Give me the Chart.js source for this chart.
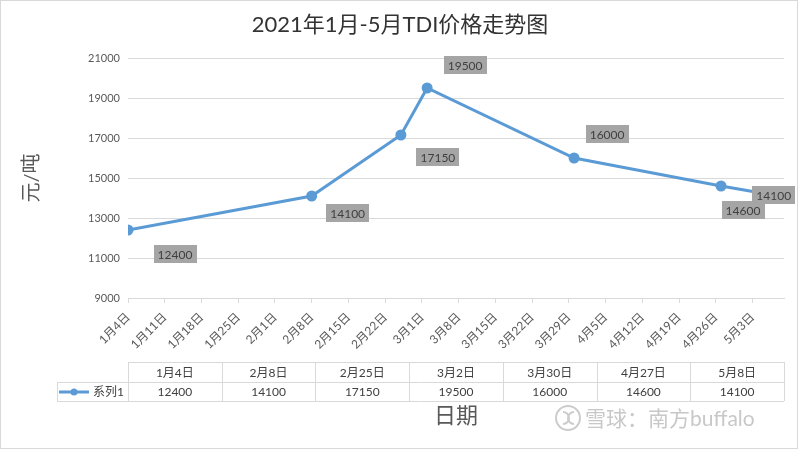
<!DOCTYPE html>
<html>
<head>
<meta charset="utf-8">
<script src="https://cdn.jsdelivr.net/npm/chart.js@4.4.1/dist/chart.umd.min.js"></script>
<style>
  html, body { margin: 0; padding: 0; background: #fff; }
</style>
</head>
<body>
<canvas id="myChart" width="800" height="451"></canvas>
<script>
// Chart data
const chartTitle = '2021年1月-5月TDI价格走势图';
const yTitle = '元/吨';
const xTitle = '日期';
const seriesName = '系列1';
const watermark = '雪球：南方buffalo';

const categories = ['1月4日', '2月8日', '2月25日', '3月2日', '3月30日', '4月27日', '5月8日'];
const prices = [12400, 14100, 17150, 19500, 16000, 14600, 14100];

const tickLabels = [
  '1月4日', '1月11日', '1月18日', '1月25日', '2月1日', '2月8日', '2月15日', '2月22日',
  '3月1日', '3月8日', '3月15日', '3月22日', '3月29日', '4月5日', '4月12日', '4月19日',
  '4月26日', '5月3日'
];

// where each gray value box sits relative to its point (px)
const labelOffsets = [[47, 24], [36, 17], [37, 22], [38, -23], [33, -24], [22, 24], [-5, -1]];

const FONT = "Lato, 'Noto Sans CJK SC', sans-serif";
const GRID = '#d9d9d9';
const TEXT = '#595959';
const LINE = '#5b9bd5';

// '2月8日' -> day of year 2021
const dayOfYear = (label) => {
  const m = label.match(/(\d+)月(\d+)日/);
  return (Date.UTC(2021, +m[1] - 1, +m[2]) - Date.UTC(2021, 0, 0)) / 86400000;
}

// Title, axis titles, frame, watermark
const decorPlugin = {
  id: 'decor',
  afterDraw: (chart) => {
    const ctx = chart.ctx;
    const area = chart.chartArea;
    ctx.save();

    ctx.strokeStyle = GRID;
    ctx.lineWidth = 1;
    ctx.strokeRect(0.5, 0.5, 797, 448);

    ctx.fillStyle = '#333333';
    ctx.font = '22px ' + FONT;
    ctx.textAlign = 'center';
    ctx.textBaseline = 'middle';
    ctx.fillText(chartTitle, 400, 25);

    ctx.fillStyle = TEXT;
    ctx.font = '22px ' + FONT;
    ctx.fillText(xTitle, (area.left + area.right) / 2, 416);

    ctx.save();
    ctx.translate(32, 178);
    ctx.rotate(-Math.PI / 2);
    ctx.font = '20px ' + FONT;
    ctx.fillText(yTitle, 0, 0);
    ctx.restore();

    // watermark logo + text
    ctx.strokeStyle = '#cccccc';
    ctx.lineWidth = 2;
    ctx.beginPath();
    ctx.arc(568, 418, 12, 0, Math.PI * 2);
    ctx.stroke();
    ctx.beginPath();
    ctx.arc(563, 418, 6, -Math.PI / 2, Math.PI / 2);
    ctx.stroke();
    ctx.beginPath();
    ctx.arc(574, 418, 6, Math.PI / 2, Math.PI * 1.5);
    ctx.stroke();
    ctx.fillStyle = '#c8c8c8';
    ctx.font = '21px ' + FONT;
    ctx.textAlign = 'left';
    ctx.fillText(watermark, 585, 419);

    ctx.restore();
  }
}

// Gray boxes with the values
const valueLabelPlugin = {
  id: 'valueLabels',
  afterDatasetsDraw: (chart) => {
    const ctx = chart.ctx;
    const points = chart.getDatasetMeta(0).data;
    ctx.save();
    ctx.font = '12px ' + FONT;
    ctx.textAlign = 'center';
    ctx.textBaseline = 'middle';
    points.forEach((p, i) => {
      const text = String(prices[i]);
      const cx = p.x + labelOffsets[i][0];
      const cy = p.y + labelOffsets[i][1];
      const w = ctx.measureText(text).width + 8;
      const h = 18;
      ctx.fillStyle = '#a5a5a5';
      ctx.fillRect(Math.round(cx - w / 2), Math.round(cy - h / 2), Math.round(w), h);
      ctx.fillStyle = '#404040';
      ctx.fillText(text, cx, cy + 1);
    });
    ctx.restore();
  }
}

// Data table under the axis
const tablePlugin = {
  id: 'dataTable',
  afterDraw: (chart) => {
    const ctx = chart.ctx;
    const area = chart.chartArea;
    const top = 362, mid = 382, bottom = 401, legendLeft = 57;
    const colW = (area.right - area.left) / categories.length;
    ctx.save();
    ctx.strokeStyle = GRID;
    ctx.lineWidth = 1;
    ctx.beginPath();
    ctx.moveTo(area.left, top + 0.5); ctx.lineTo(area.right, top + 0.5);
    ctx.moveTo(legendLeft, mid + 0.5); ctx.lineTo(area.right, mid + 0.5);
    ctx.moveTo(legendLeft, bottom + 0.5); ctx.lineTo(area.right, bottom + 0.5);
    ctx.moveTo(legendLeft + 0.5, mid); ctx.lineTo(legendLeft + 0.5, bottom);
    for (let i = 0; i <= categories.length; i++) {
      const x = Math.round(area.left + i * colW) + 0.5;
      ctx.moveTo(x, top); ctx.lineTo(x, bottom);
    }
    ctx.stroke();

    ctx.font = '12px ' + FONT;
    ctx.fillStyle = '#404040';
    ctx.textAlign = 'center';
    ctx.textBaseline = 'middle';
    categories.forEach((c, i) => {
      const x = area.left + (i + 0.5) * colW;
      ctx.fillText(c, x, (top + mid) / 2 + 1);
      ctx.fillText(String(prices[i]), x, (mid + bottom) / 2 + 1);
    });

    // legend key
    const ly = (mid + bottom) / 2 + 0.5;
    ctx.strokeStyle = LINE;
    ctx.lineWidth = 3;
    ctx.beginPath();
    ctx.moveTo(59, ly); ctx.lineTo(89, ly);
    ctx.stroke();
    ctx.fillStyle = LINE;
    ctx.beginPath();
    ctx.arc(74, ly, 3.5, 0, Math.PI * 2);
    ctx.fill();
    ctx.fillStyle = '#404040';
    ctx.textAlign = 'left';
    ctx.fillText(seriesName, 93, ly + 0.5);
    ctx.restore();
  }
}

const createChart = () => {
  Chart.defaults.font.family = FONT;
  Chart.defaults.color = TEXT;

  const data = {
    datasets: [{
      label: seriesName,
      data: categories.map((c, i) => ({ x: dayOfYear(c), y: prices[i] })),
      borderColor: LINE,
      backgroundColor: LINE,
      borderWidth: 3,
      pointRadius: 4,
      pointHoverRadius: 4,
      tension: 0
    }]
  };

  const config = {
    type: 'line',
    data: data,
    options: {
      responsive: false,
      animation: false,
      layout: { padding: { top: 58, right: 16, bottom: 0, left: 0 } },
      plugins: {
        legend: { display: false },
        tooltip: { enabled: false },
        title: { display: false }
      },
      scales: {
        x: {
          type: 'linear',
          min: dayOfYear(tickLabels[0]),
          max: dayOfYear(categories[categories.length - 1]) + 1,
          afterBuildTicks: (scale) => {
            scale.ticks = tickLabels.map(l => ({ value: dayOfYear(l) }));
          },
          afterFit: (scale) => { scale.height = 153; },
          ticks: {
            autoSkip: false,
            minRotation: 45,
            maxRotation: 45,
            padding: 7,
            color: TEXT,
            font: { size: 12 },
            callback: (v, i) => tickLabels[i]
          },
          grid: { drawOnChartArea: false, drawTicks: true, tickLength: 5, color: GRID },
          border: { color: GRID }
        },
        y: {
          min: 9000,
          max: 21000,
          afterFit: (scale) => { scale.width = 128; },
          ticks: { stepSize: 2000, padding: 8, color: TEXT, font: { size: 11 }, callback: (v) => String(v) },
          grid: { color: GRID, drawTicks: false },
          border: { display: false }
        }
      }
    },
    plugins: [valueLabelPlugin, tablePlugin, decorPlugin]
  };

  chart = new Chart(document.getElementById('myChart'), config);
}

let chart = undefined;
createChart();
</script>
</body>
</html>
